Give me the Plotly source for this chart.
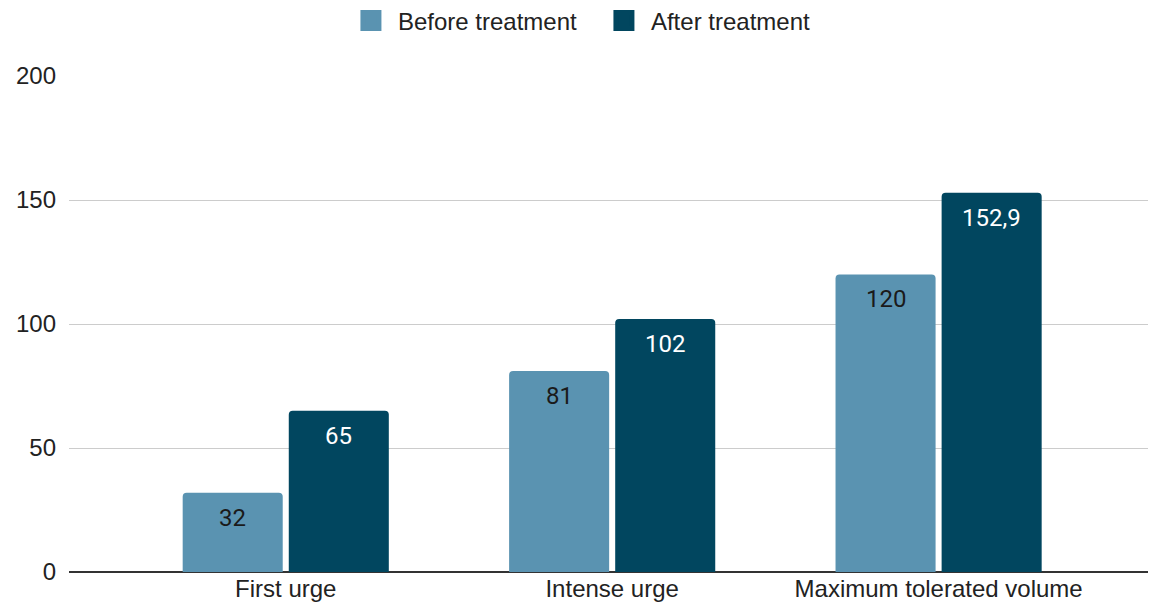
import plotly.graph_objects as go

categories = ["First urge", "Intense urge", "Maximum tolerated volume"]
before = [32, 81, 120]
after = [65, 102, 152.9]
before_labels = ["32", "81", "120"]
after_labels = ["65", "102", "152,9"]
yticks = [0, 50, 100, 150, 200]

c_before = "#5a93b1"
c_after = "#01465f"

fig = go.Figure()
fig.add_trace(go.Bar(name="Before treatment", x=categories, y=before,
                     marker=dict(color=c_before, line=dict(width=0)), showlegend=False))
fig.add_trace(go.Bar(name="After treatment", x=categories, y=after,
                     marker=dict(color=c_after, line=dict(width=0)), showlegend=False))
# legend entries with larger square swatches
for nm, col in [("Before treatment", c_before), ("After treatment", c_after)]:
    fig.add_trace(go.Scatter(x=[None], y=[None], mode="markers", name=nm,
                             marker=dict(symbol="square", size=22, color=col,
                                         line=dict(color=col, width=6))))

# data labels inside the top of each bar
for i, cat in enumerate(categories):
    fig.add_annotation(x=cat, y=before[i], text=before_labels[i], xshift=-53, yshift=-9,
                       yanchor="top", showarrow=False,
                       font=dict(family="Roboto", size=24, color="#1a1a1a"))
    fig.add_annotation(x=cat, y=after[i], text=after_labels[i], xshift=53, yshift=-9,
                       yanchor="top", showarrow=False,
                       font=dict(family="Roboto", size=24, color="#ffffff"))

fig.update_layout(
    width=1156, height=611,
    margin=dict(l=54, r=8, t=68, b=47),
    barmode="group", bargap=0.35, bargroupgap=0.057,
    barcornerradius=4,
    plot_bgcolor="white", paper_bgcolor="white",
    font=dict(family="Liberation Sans", size=24, color="#222222"),
    legend=dict(orientation="h", x=0.2906, xanchor="left", xref="container",
                y=0.979, yanchor="middle", yref="container",
                font=dict(family="Liberation Sans", size=24, color="#222222"),
                traceorder="normal", itemwidth=44, entrywidth=194),
    showlegend=True,
)
fig.update_xaxes(range=[-0.664, 2.666], showgrid=False, ticks="", showline=False,
                 tickfont=dict(family="Liberation Sans", size=24, color="#222222"))
fig.update_yaxes(range=[0, 200], tickvals=yticks, showgrid=True, gridcolor="#cccccc",
                 gridwidth=1, zeroline=True, zerolinecolor="#333333", zerolinewidth=1.5,
                 ticks="", ticklabelstandoff=12,
                 tickfont=dict(family="Liberation Sans", size=24, color="#222222"))

fig.write_html("out.html")
